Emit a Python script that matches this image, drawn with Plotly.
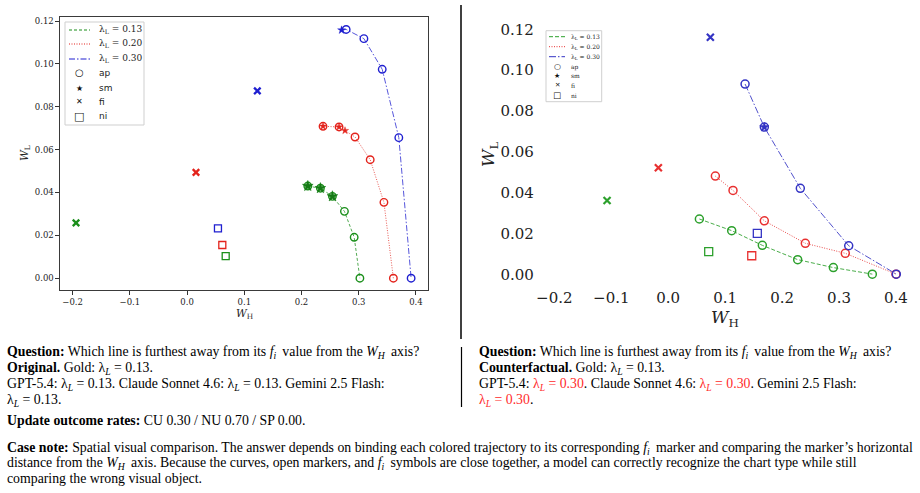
import plotly.graph_objects as go

W, H = 920, 493
def px(x): return x / W
def py(y): return 1 - y / H

# ---------------- data: Original panel (left) ----------------
orig_g_ap_x = [0.211, 0.233, 0.254, 0.275, 0.292, 0.302]
orig_g_ap_y = [0.0430, 0.0420, 0.0382, 0.0312, 0.0191, 0.0]
orig_r_ap_x = [0.2376, 0.2656, 0.2935, 0.320, 0.344, 0.3605]
orig_r_ap_y = [0.0709, 0.0706, 0.0659, 0.0553, 0.0354, 0.0]
orig_b_ap_x = [0.270, 0.278, 0.309, 0.341, 0.370, 0.3915]
orig_b_ap_y = [0.1158, 0.1161, 0.1118, 0.0975, 0.0656, 0.0]
orig_b_ap_show = [False, True, True, True, True, True]

orig_g_sm_x = [0.211, 0.233, 0.254]
orig_g_sm_y = [0.0430, 0.0420, 0.0382]
orig_r_sm_x = [0.2376, 0.2656, 0.276]
orig_r_sm_y = [0.0709, 0.0706, 0.0689]
orig_b_sm_x = [0.270]
orig_b_sm_y = [0.1158]

orig_fi_x = [-0.194, 0.0156, 0.1228]
orig_fi_y = [0.0258, 0.0494, 0.0874]
orig_ni_x = [0.0675, 0.0616, 0.054]
orig_ni_y = [0.0103, 0.0155, 0.0233]

# ---------------- data: Counterfactual panel (right) ----------------
cf_g_ap_x = [0.0547, 0.1115, 0.1653, 0.2274, 0.290, 0.3585]
cf_g_ap_y = [0.0271, 0.0214, 0.0142, 0.0072, 0.0033, 0.0001]
cf_r_ap_x = [0.0828, 0.1138, 0.1688, 0.2408, 0.311, 0.400]
cf_r_ap_y = [0.0481, 0.0411, 0.0262, 0.0152, 0.0103, 0.0001]
cf_b_ap_x = [0.135, 0.1688, 0.232, 0.317, 0.4006]
cf_b_ap_y = [0.0932, 0.0721, 0.0421, 0.0140, 0.0001]
cf_b_sm_x = [0.1688]
cf_b_sm_y = [0.0721]

cf_fi_x = [-0.1074, -0.0173, 0.074]
cf_fi_y = [0.0362, 0.0522, 0.1161]
cf_ni_x = [0.0711, 0.1467, 0.1565]
cf_ni_y = [0.0111, 0.0091, 0.0201]

lambda_labels = ["0.13", "0.20", "0.30"]
x_ticks = [-0.2, -0.1, 0.0, 0.1, 0.2, 0.3, 0.4]
x_tick_text = ["\u22120.2", "\u22120.1", "0.0", "0.1", "0.2", "0.3", "0.4"]
y_ticks = [0.0, 0.02, 0.04, 0.06, 0.08, 0.10, 0.12]
y_tick_text = ["0.00", "0.02", "0.04", "0.06", "0.08", "0.10", "0.12"]

L_COL = ["#1b8f1b", "#e3231c", "#1f1fd0"]
R_COL = ["#2ca02c", "#e83030", "#3434c4"]
L_DASH = ["3px,2px", "1px,1.5px", "6px,2px,1.5px,2px"]
R_DASH = ["4px,2px", "1px,1.5px", "7px,2px,1.5px,2px"]

fig = go.Figure()

def curve(x, y, col, dash, xa, ya, lw=1.0, op=0.75):
    fig.add_trace(go.Scatter(x=x, y=y, mode="lines", xaxis=xa, yaxis=ya,
                             line=dict(color=col, dash=dash, width=lw),
                             opacity=op, showlegend=False, hoverinfo="skip"))

def markers(x, y, col, sym, xa, ya, size, lw=1.3, fill=None):
    fig.add_trace(go.Scatter(x=x, y=y, mode="markers", xaxis=xa, yaxis=ya,
                             marker=dict(symbol=sym, size=size,
                                         color=fill if fill else col,
                                         line=dict(color=col, width=lw)),
                             showlegend=False))

# left panel
lefts = [(orig_g_ap_x, orig_g_ap_y), (orig_r_ap_x, orig_r_ap_y), (orig_b_ap_x, orig_b_ap_y)]
for i, (xx, yy) in enumerate(lefts):
    curve(xx, yy, L_COL[i], L_DASH[i], "x", "y")
for i, (xx, yy) in enumerate(lefts):
    if i == 2:
        xx = [v for v, s in zip(xx, orig_b_ap_show) if s]
        yy = [v for v, s in zip(yy, orig_b_ap_show) if s]
    markers(xx, yy, L_COL[i], "circle-open", "x", "y", 7.5, 1.4)
markers(orig_g_sm_x, orig_g_sm_y, "#147a14", "star", "x", "y", 8, 0.6)
markers(orig_r_sm_x, orig_r_sm_y, L_COL[1], "star", "x", "y", 5.5, 0.4)
markers(orig_b_sm_x, orig_b_sm_y, L_COL[2], "star", "x", "y", 6, 0.4)
for i in range(3):
    markers([orig_fi_x[i]], [orig_fi_y[i]], L_COL[i], "x-thin", "x", "y", 6.5, 2.3)
    markers([orig_ni_x[i]], [orig_ni_y[i]], L_COL[i], "square-open", "x", "y", 7, 1.3)

# right panel
rights = [(cf_g_ap_x, cf_g_ap_y), (cf_r_ap_x, cf_r_ap_y), (cf_b_ap_x, cf_b_ap_y)]
for i, (xx, yy) in enumerate(rights):
    curve(xx, yy, R_COL[i], R_DASH[i], "x2", "y2", 1.0, 0.85)
for i, (xx, yy) in enumerate(rights):
    markers(xx, yy, R_COL[i], "circle-open", "x2", "y2", 8, 1.5)
markers(cf_b_sm_x, cf_b_sm_y, R_COL[2], "star", "x2", "y2", 7, 0.5)
for i in range(3):
    markers([cf_fi_x[i]], [cf_fi_y[i]], R_COL[i], "x-thin", "x2", "y2", 7, 2.2)
    markers([cf_ni_x[i]], [cf_ni_y[i]], R_COL[i], "square-open", "x2", "y2", 8, 1.3)

SERIF_TICK = "DejaVu Serif"
fig.update_layout(
    width=W, height=H, autosize=False,
    margin=dict(l=0, r=0, t=0, b=0, pad=0),
    paper_bgcolor="white", plot_bgcolor="white",
    showlegend=False,
    xaxis=dict(domain=[px(60), px(428)], range=[-0.222, 0.421], anchor="y",
               automargin=False,
               showline=True, mirror=True, linecolor="#3a3a3a", linewidth=1.1,
               showgrid=False, zeroline=False, ticks="outside", ticklen=3.5,
               tickwidth=0.8, tickcolor="#333", tickvals=x_ticks, ticktext=x_tick_text,
               tickfont=dict(family=SERIF_TICK, size=8.5, color="#222"),
               ticklabelstandoff=0),
    yaxis=dict(domain=[py(290), py(17)], range=[-0.0055, 0.1219], anchor="x",
               automargin=False,
               showline=True, mirror=True, linecolor="#3a3a3a", linewidth=1.1,
               showgrid=False, zeroline=False, ticks="outside", ticklen=3.5,
               tickwidth=0.8, tickcolor="#333", tickvals=y_ticks, ticktext=y_tick_text,
               tickfont=dict(family=SERIF_TICK, size=8.5, color="#222")),
    xaxis2=dict(domain=[px(545.8), px(904.5)], range=[-0.215, 0.415], anchor="y2",
                automargin=False,
                showline=False, showgrid=False, zeroline=False,
                ticks="outside", ticklen=1, tickcolor="rgba(0,0,0,0)",
                tickvals=x_ticks, ticktext=x_tick_text,
                tickfont=dict(family=SERIF_TICK, size=15, color="#222"),
                ticklabelstandoff=0),
    yaxis2=dict(domain=[py(282.5), py(19.1)], range=[-0.004, 0.125], anchor="x2",
                automargin=False,
                showline=False, showgrid=False, zeroline=False,
                ticks="outside", ticklen=8, tickcolor="rgba(0,0,0,0)",
                tickvals=y_ticks, ticktext=y_tick_text,
                tickfont=dict(family=SERIF_TICK, size=15, color="#222")),
)

shapes = []
annots = []

def txt(x, y, s, size, family="Liberation Serif", color="black", xanchor="left",
        yanchor="middle", angle=0):
    annots.append(dict(x=px(x), y=py(y), xref="paper", yref="paper", text=s,
                       showarrow=False, xanchor=xanchor, yanchor=yanchor,
                       font=dict(family=family, size=size, color=color),
                       textangle=angle, borderpad=0))

# axis titles
txt(25, 153, "<i>W</i><sub>L</sub>", 10.5, "DejaVu Serif", "#222", "center", "middle", -90)
txt(244, 314, "<i>W</i><sub>H</sub>", 10.5, "DejaVu Serif", "#222", "center", "middle")
txt(489, 155, "<i>W</i><sub>L</sub>", 17, "DejaVu Serif", "#222", "center", "middle", -90)
txt(725, 318, "<i>W</i><sub>H</sub>", 17, "DejaVu Serif", "#222", "center", "middle")

# legends
def legend(box, rows, lx0, lx1, mx, tx, fsize, msize, serif_names, cols, dashes):
    x0, y0, x1, y1 = box
    shapes.append(dict(type="rect", xref="paper", yref="paper",
                       x0=px(x0), x1=px(x1), y0=py(y1), y1=py(y0),
                       line=dict(color="#cfcfcf", width=1), fillcolor="white"))
    for i in range(3):
        shapes.append(dict(type="line", xref="paper", yref="paper",
                           x0=px(lx0), x1=px(lx1), y0=py(rows[i]), y1=py(rows[i]),
                           line=dict(color=cols[i], width=1, dash=dashes[i])))
        txt(tx, rows[i], "\u03bb<sub>L</sub> = " + lambda_labels[i], fsize, "DejaVu Serif", "#222")
    syms = ["\u25cb", "\u2605", "\u2715", "\u25a1"]
    names = ["ap", "sm", "fi", "ni"]
    for j in range(4):
        txt(mx, rows[3 + j], syms[j], msize[j], "DejaVu Sans", "#111", "center")
        txt(tx, rows[3 + j], names[j], fsize, "DejaVu Serif" if serif_names else "DejaVu Sans", "#222")

legend((65, 22, 144, 125), [30, 44, 59, 73, 88, 102, 116], 69, 90, 79.3, 98, 9,
       [10, 8, 8, 11], False, L_COL, L_DASH)
legend((546, 30.7, 601.7, 101.7), [36.7, 46.7, 56.7, 66.7, 76, 85.3, 95], 549, 565, 557, 570, 6,
       [8, 7, 6.5, 8.5], True, R_COL, R_DASH)

# divider lines
shapes.append(dict(type="line", xref="paper", yref="paper", x0=px(461), x1=px(461),
                   y0=py(5), y1=py(339), line=dict(color="black", width=1.5)))
shapes.append(dict(type="line", xref="paper", yref="paper", x0=px(461.5), x1=px(461.5),
                   y0=py(347), y1=py(407), line=dict(color="black", width=1.2)))

# caption text
RED = "#ff2a2a"
lam = "\u03bb<sub><i>L</i></sub>&nbsp;= "
fi = "<i>f<sub>i</sub></i>\u2009"
wh = "<i>W<sub>H</sub></i>\u2009"
q = "<b>Question:</b> Which line is furthest away from its " + fi + " value from the " + wh + " axis?"
FS = 13.8
txt(6, 352, q, FS)
txt(6, 368, "<b>Original.</b> Gold: " + lam + "0.13.", FS)
txt(6, 384, "GPT-5.4: " + lam + "0.13. Claude Sonnet 4.6: " + lam + "0.13. Gemini 2.5 Flash:", FS)
txt(6, 400, lam + "0.13.", FS)

def red(s):
    return "<span style='color:" + RED + "'>" + s + "</span>"

txt(478, 352, q, FS)
txt(478, 368, "<b>Counterfactual.</b> Gold: " + lam + "0.13.", FS)
txt(478, 384, "GPT-5.4: " + red(lam + "0.30") + ". Claude Sonnet 4.6: " + red(lam + "0.30") + ". Gemini 2.5 Flash:", FS)
txt(478, 400, red(lam + "0.30") + ".", FS)

txt(6, 420, "<b>Update outcome rates:</b> CU 0.30 / NU 0.70 / SP 0.00.", FS)
txt(6, 448, "<b>Case note:</b> Spatial visual comparison. The answer depends on binding each colored trajectory to its corresponding "
    + fi + " marker and comparing the marker\u2019s horizontal", FS)
txt(6, 463, "distance from the " + wh + " axis. Because the curves, open markers, and " + fi
    + " symbols are close together, a model can correctly recognize the chart type while still", FS)
txt(6, 478, "comparing the wrong visual object.", FS)

fig.update_layout(shapes=shapes, annotations=annots)
fig.write_html("out.html")
